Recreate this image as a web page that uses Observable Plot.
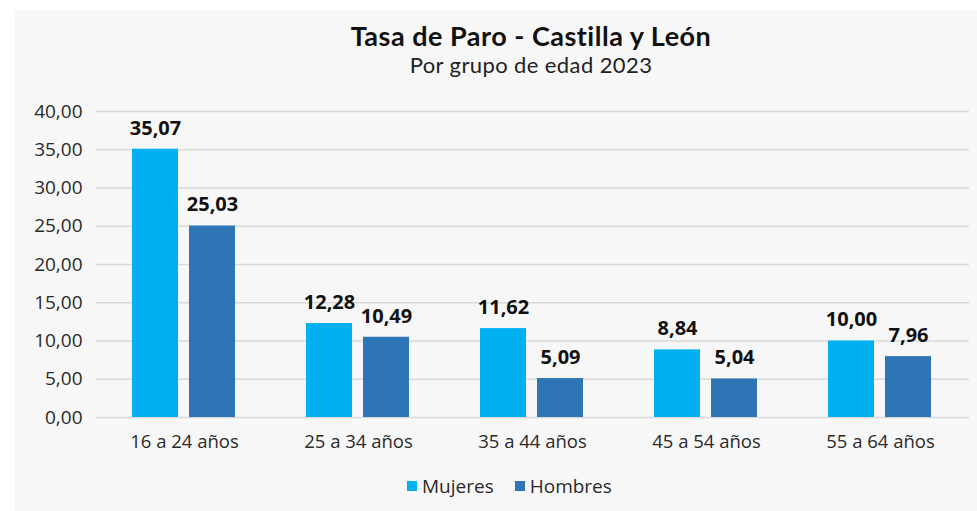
<!DOCTYPE html>
<html>
<head>
<meta charset="utf-8">
<script src="https://cdn.jsdelivr.net/npm/d3@7"></script>
<script src="https://cdn.jsdelivr.net/npm/@observablehq/plot@0.6"></script>
<style>
  html, body { margin: 0; padding: 0; background: #ffffff; }
  body { width: 977px; height: 511px; position: relative; overflow: hidden; font-family: "Open Sans", sans-serif; }
  #panel { position: absolute; left: 15px; top: 10px; right: 0; bottom: 0; background: #f7f7f7; }
  #title { position: absolute; left: 231px; width: 600px; top: 20px; text-align: center; font-family: Lato, sans-serif; font-weight: 700; font-size: 27px; letter-spacing: 0.5px; color: #111; line-height: 32px; }
  #subtitle { position: absolute; left: 231px; width: 600px; top: 52px; text-align: center; font-family: Lato, sans-serif; font-size: 22px; letter-spacing: 0.4px; color: #222; line-height: 26px; }
  .chart { position: absolute; left: 0; top: 90px; }
  #legend { position: absolute; left: 407px; top: 473px; display: flex; align-items: center; font-family: "Open Sans", sans-serif; font-size: 19px; color: #2a2a2a; }
  #legend .item { display: flex; align-items: center; margin-right: 21px; }
  #legend .sw { width: 10px; height: 10px; margin-right: 5px; }
</style>
</head>
<body>
<div id="panel"></div>
<div id="title">Tasa de Paro - Castilla y León</div>
<div id="subtitle">Por grupo de edad 2023</div>
<div id="grid" class="chart"></div>
<div id="bars" class="chart"></div>
<div id="legend"></div>
<script>
const groups = ["16 a 24 años", "25 a 34 años", "35 a 44 años", "45 a 54 años", "55 a 64 años"];
const series = ["Mujeres", "Hombres"];
const mujeres = [35.07, 12.28, 11.62, 8.84, 10.00];
const hombres = [25.03, 10.49, 5.09, 5.04, 7.96];
const yTicks = [0, 5, 10, 15, 20, 25, 30, 35, 40];
const colors = ["#00b0f0", "#2e75b6"];

const fmt = d => d.toFixed(2).replace(".", ",");
const data = groups.flatMap((g, i) => [
  {group: g, sex: series[0], value: mujeres[i]},
  {group: g, sex: series[1], value: hombres[i]}
]);

const common = {
  width: 977,
  height: 380,
  marginLeft: 96,
  marginRight: 8,
  marginTop: 21,
  marginBottom: 53,
  style: {background: "transparent", fontFamily: "'Open Sans', sans-serif", fontSize: "19px", color: "#2a2a2a"}
};

// Background layer: gridlines and y-axis labels across the full frame
const gridPlot = Plot.plot({
  ...common,
  y: {domain: [0, 40], label: null},
  marks: [
    Plot.gridY(yTicks, {stroke: "#d9d9d9", strokeOpacity: 1, strokeWidth: 1.5}),
    Plot.axisY(yTicks, {tickSize: 0, tickPadding: 14, tickFormat: fmt, label: null, fontSize: 19, fill: "#2a2a2a"})
  ]
});
document.getElementById("grid").appendChild(gridPlot);

// Foreground layer: grouped bars
const barPlot = Plot.plot({
  ...common,
  fx: {domain: groups, paddingInner: 0.4, paddingOuter: 0.2, label: null, axis: null},
  x: {domain: series, paddingInner: 0.19, paddingOuter: 0, axis: null},
  y: {domain: [0, 40], axis: null},
  color: {domain: series, range: colors},
  marks: [
    Plot.barY(data, {fx: "group", x: "sex", y: "value", fill: "sex"}),
    Plot.text(data, {fx: "group", x: "sex", y: "value", text: d => fmt(d.value), dy: -21, fontSize: 20, fontWeight: "bold", fill: "#111"}),
    Plot.axisFx({anchor: "bottom", tickSize: 0, tickPadding: 17, label: null, fontSize: 18.5, fill: "#2a2a2a"})
  ]
});
document.getElementById("bars").appendChild(barPlot);

const legend = document.getElementById("legend");
series.forEach((s, i) => {
  const item = document.createElement("div");
  item.className = "item";
  const sw = document.createElement("div");
  sw.className = "sw";
  sw.style.background = colors[i];
  const lab = document.createElement("span");
  lab.textContent = s;
  item.appendChild(sw);
  item.appendChild(lab);
  legend.appendChild(item);
});
</script>
</body>
</html>
